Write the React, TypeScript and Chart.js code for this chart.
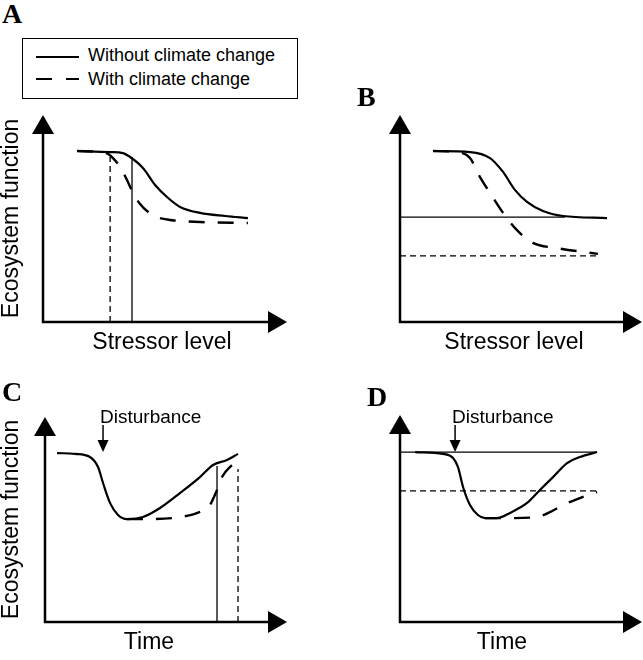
import React, { useEffect, useRef } from "react";
import { Chart, registerables } from "chart.js";

Chart.register(...registerables);

// ---------- DATA (x: 0-100 along axis, y: 0-100 ecosystem function) ----------
// Panel A: stressor level, thresholds
const aWithoutX = [14.3, 28.2, 33.6, 36.6, 42.0, 47.1, 52.1, 57.6, 66.0, 76.5, 86.1];
const aWithoutY = [82.6, 82.1, 81.6, 79.7, 74.4, 66.2, 60.4, 55.6, 52.7, 51.2, 50.2];
const aWithX = [14.3, 23.9, 27.3, 29.4, 32.4, 35.3, 37.8, 40.8, 43.7, 47.9, 53.4, 66.0, 86.1];
const aWithY = [82.6, 82.1, 81.2, 79.2, 74.9, 68.6, 62.3, 57.0, 53.6, 50.7, 49.3, 48.3, 47.8];
const aThresholdX = [37.4, 28.2]; // without, with
const aThresholdTop = [79.7, 79.7];

// Panel B: stressor level, function levels
const bWithoutX = [14.5, 30.7, 39.5, 45.2, 50.4, 55.7, 62.7, 71.5, 90.8];
const bWithoutY = [82.6, 82.1, 79.2, 72.5, 63.8, 58.0, 53.6, 51.2, 50.2];
const bWithX = [14.5, 25.0, 30.7, 35.1, 39.5, 45.2, 51.3, 58.3, 68.9, 86.8];
const bWithY = [82.6, 82.1, 79.2, 70.0, 62.3, 52.7, 44.4, 38.2, 35.7, 32.9];
const bLevelY = [50.7, 31.9]; // without, with
const bLevelEndX = [72.4, 86.8];

// Panel C: time, recovery times
const cWithoutX = [5.8, 14.4, 21.6, 25.5, 27.9, 31.3, 35.1, 39.4, 47.1, 55.3, 64.9, 74.5, 80.8, 87.5, 92.8];
const cWithoutY = [82.4, 82.0, 80.5, 75.6, 67.8, 58.0, 52.2, 50.2, 51.2, 55.6, 62.9, 70.7, 76.6, 79.0, 82.0];
const cWithX = [39.4, 50.5, 64.9, 74.5, 79.3, 82.7, 85.1, 88.9, 94.7];
const cWithY = [50.2, 50.2, 51.2, 53.7, 57.1, 64.4, 70.7, 75.6, 79.5];
const cRecoveryX = [82.7, 92.8]; // without, with
const cRecoveryTop = [76.1, 74.6];
const cDisturbance = [27.9, 96.1, 82.9]; // x, arrow top, arrow tip

// Panel D: time, function levels
const dWithoutX = [7.4, 21.1, 26.0, 28.4, 30.9, 34.3, 38.2, 41.7, 47.5, 53.9, 62.3, 68.6, 75.0, 81.9, 88.2, 96.6];
const dWithoutY = [82.1, 81.2, 79.2, 74.9, 65.2, 56.5, 51.7, 50.2, 50.2, 52.7, 57.5, 63.8, 70.0, 76.8, 79.7, 82.1];
const dWithX = [41.7, 53.9, 67.2, 73.5, 79.9, 88.2, 96.6];
const dWithY = [50.2, 50.2, 50.7, 53.1, 56.5, 59.9, 62.8];
const dLevelY = [82.1, 63.3]; // without, with
const dLevelEndX = [96.6, 96.6];
const dDisturbance = [27.0, 95.2, 82.1];

const legendLabels = ["Without climate change", "With climate change"];
const panelLetters = ["A", "B", "C", "D"];
const yTitleText = "Ecosystem function";
const stressorText = "Stressor level";
const timeText = "Time";
const disturbanceText = "Disturbance";

// ---------- helpers ----------
const SANS = "'Liberation Sans', Arial, Helvetica, sans-serif";
const zip = (xs: number[], ys: number[]) => xs.map((x, i) => ({ x, y: ys[i] }));

const solidCurve = (data: any[]) => ({
  data, borderColor: "#000", borderWidth: 2.2, pointRadius: 0, cubicInterpolationMode: "monotone", fill: false,
});
const dashedCurve = (data: any[]) => ({
  ...solidCurve(data), borderWidth: 2.4, borderDash: [16, 13],
});
const refLine = (data: any[], dashed: boolean) => ({
  data, borderColor: "#000", borderWidth: 1.3, pointRadius: 0, tension: 0, fill: false,
  borderDash: dashed ? [6, 4] : [],
});

type PanelCfg = {
  rect: [number, number, number, number];
  area: [number, number, number, number];
  yTitle?: string;
  yTitleX?: number;
  xTitle: string;
  xTitleY: number;
  ext: number;
  datasets: any[];
  disturbance?: number[];
};

function makeDecor(cfg: PanelCfg) {
  return {
    id: "decor",
    afterDraw(chart: any) {
      const { ctx, chartArea } = chart;
      const { left, top, right, bottom } = chartArea;
      const aw = 22, ah = 19;
      const tipX = right + cfg.ext;
      ctx.save();
      ctx.strokeStyle = "#000";
      ctx.fillStyle = "#000";
      ctx.lineWidth = 2.5;
      ctx.beginPath();
      ctx.moveTo(left, bottom + 1.2);
      ctx.lineTo(left, top + ah - 2);
      ctx.moveTo(left - 1.2, bottom);
      ctx.lineTo(tipX - ah + 2, bottom);
      ctx.stroke();
      ctx.beginPath();
      ctx.moveTo(left, top);
      ctx.lineTo(left - aw / 2, top + ah);
      ctx.lineTo(left + aw / 2, top + ah);
      ctx.closePath();
      ctx.fill();
      ctx.beginPath();
      ctx.moveTo(tipX, bottom);
      ctx.lineTo(tipX - ah, bottom - aw / 2);
      ctx.lineTo(tipX - ah, bottom + aw / 2);
      ctx.closePath();
      ctx.fill();
      if (cfg.disturbance) {
        const [dx, dTop, dTip] = cfg.disturbance;
        const xs = chart.scales.x, ys = chart.scales.y;
        const px = xs.getPixelForValue(dx);
        const pTop = ys.getPixelForValue(dTop);
        const pTip = ys.getPixelForValue(dTip);
        ctx.lineWidth = 1.5;
        ctx.beginPath();
        ctx.moveTo(px, pTop);
        ctx.lineTo(px, pTip - 10);
        ctx.stroke();
        ctx.beginPath();
        ctx.moveTo(px, pTip);
        ctx.lineTo(px - 5.5, pTip - 12);
        ctx.lineTo(px + 5.5, pTip - 12);
        ctx.closePath();
        ctx.fill();
        ctx.font = `19px ${SANS}`;
        ctx.textAlign = "left";
        ctx.textBaseline = "middle";
        ctx.fillText(disturbanceText, px - 3, pTop - 7);
      }
      ctx.restore();
    },
  };
}

function Panel({ cfg }: { cfg: PanelCfg }) {
  const ref = useRef<HTMLCanvasElement | null>(null);
  useEffect(() => {
    if (!ref.current) return;
    const fs = 23;
    const [cx, cy, cw, ch] = cfg.rect;
    const [L, T, R, B] = cfg.area;
    const hasY = !!cfg.yTitle;
    const yPadTop = hasY ? (cfg.yTitleX as number) - cx - fs / 2 : 0;
    const yPadBot = hasY ? L - cx - fs - yPadTop : 0;
    const xPadBot = cy + ch - cfg.xTitleY - fs / 2;
    const xPadTop = cy + ch - B - fs - xPadBot;
    const titleFont = { family: SANS, size: fs, lineHeight: 1 };
    const chart = new Chart(ref.current, {
      type: "line",
      data: { datasets: cfg.datasets },
      options: {
        responsive: false,
        animation: false,
        layout: { padding: { left: hasY ? 0 : L - cx, top: T - cy, right: cx + cw - R, bottom: 0 } },
        plugins: { legend: { display: false }, tooltip: { enabled: false } },
        scales: {
          x: {
            type: "linear", min: 0, max: 100,
            ticks: { display: false }, grid: { display: false, drawTicks: false }, border: { display: false },
            title: { display: true, text: cfg.xTitle, color: "#000", font: titleFont, padding: { top: xPadTop, bottom: xPadBot } },
          },
          y: {
            type: "linear", min: 0, max: 100, display: hasY,
            ticks: { display: false }, grid: { display: false, drawTicks: false }, border: { display: false },
            title: { display: hasY, text: cfg.yTitle || "", color: "#000", font: titleFont, padding: { top: yPadTop, bottom: yPadBot } },
          },
        },
      } as any,
      plugins: [makeDecor(cfg)],
    });
    return () => chart.destroy();
  }, []);
  const [cx, cy, cw, ch] = cfg.rect;
  return (
    <canvas ref={ref} width={cw} height={ch}
      style={{ position: "absolute", left: cx, top: cy, width: cw, height: ch }} />
  );
}

const panels: PanelCfg[] = [
  {
    rect: [0, 100, 320, 270], area: [43, 115, 281, 322], yTitle: yTitleText, yTitleX: 12,
    xTitle: stressorText, xTitleY: 343, ext: 6,
    datasets: [
      refLine([{ x: aThresholdX[0], y: 0 }, { x: aThresholdX[0], y: aThresholdTop[0] }], false),
      refLine([{ x: aThresholdX[1], y: 0 }, { x: aThresholdX[1], y: aThresholdTop[1] }], true),
      solidCurve(zip(aWithoutX, aWithoutY)),
      dashedCurve(zip(aWithX, aWithY)),
    ],
  },
  {
    rect: [330, 100, 313, 270], area: [400, 115, 628, 322],
    xTitle: stressorText, xTitleY: 343, ext: 14,
    datasets: [
      refLine([{ x: 0, y: bLevelY[0] }, { x: bLevelEndX[0], y: bLevelY[0] }], false),
      refLine([{ x: 0, y: bLevelY[1] }, { x: bLevelEndX[1], y: bLevelY[1] }], true),
      solidCurve(zip(bWithoutX, bWithoutY)),
      dashedCurve(zip(bWithX, bWithY)),
    ],
  },
  {
    rect: [0, 400, 320, 260], area: [45, 417, 253, 622], yTitle: yTitleText, yTitleX: 12,
    xTitle: timeText, xTitleY: 643, ext: 34, disturbance: cDisturbance,
    datasets: [
      refLine([{ x: cRecoveryX[0], y: 0 }, { x: cRecoveryX[0], y: cRecoveryTop[0] }], false),
      refLine([{ x: cRecoveryX[1], y: 0 }, { x: cRecoveryX[1], y: cRecoveryTop[1] }], true),
      solidCurve(zip(cWithoutX, cWithoutY)),
      dashedCurve(zip(cWithX, cWithY)),
    ],
  },
  {
    rect: [330, 400, 313, 260], area: [400, 415, 604, 622],
    xTitle: timeText, xTitleY: 643, ext: 38, disturbance: dDisturbance,
    datasets: [
      refLine([{ x: 0, y: dLevelY[0] }, { x: dLevelEndX[0], y: dLevelY[0] }], false),
      refLine([{ x: 0, y: dLevelY[1] }, { x: dLevelEndX[1], y: dLevelY[1] }], true),
      solidCurve(zip(dWithoutX, dWithoutY)),
      dashedCurve(zip(dWithX, dWithY)),
    ],
  },
];

const letterPos: [number, number][] = [[2, 0], [357, 83], [2, 378], [367, 383]];

export default function App() {
  return (
    <div style={{ position: "absolute", left: 0, top: 0, width: 643, height: 660, background: "#fff", overflow: "hidden" }}>
      {panels.map((p, i) => <Panel key={i} cfg={p} />)}
      {panelLetters.map((l, i) => (
        <div key={l} style={{
          position: "absolute", left: letterPos[i][0], top: letterPos[i][1],
          font: "bold 28px 'Liberation Serif', 'Times New Roman', serif", lineHeight: "28px", color: "#000",
        }}>{l}</div>
      ))}
      <div style={{
        position: "absolute", left: 22, top: 38, width: 276, height: 61, boxSizing: "border-box",
        border: "1.5px solid #000", background: "#fff",
      }} />
      <svg width={60} height={40} style={{ position: "absolute", left: 30, top: 45 }}>
        <line x1={6} y1={12} x2={49} y2={12} stroke="#000" strokeWidth={2} />
        <line x1={6} y1={34} x2={49} y2={34} stroke="#000" strokeWidth={2} strokeDasharray="16 14" />
      </svg>
      {legendLabels.map((t, i) => (
        <div key={t} style={{
          position: "absolute", left: 88, top: 45 + i * 24, font: `18px ${SANS}`, lineHeight: "20px", color: "#000",
          whiteSpace: "nowrap",
        }}>{t}</div>
      ))}
    </div>
  );
}
